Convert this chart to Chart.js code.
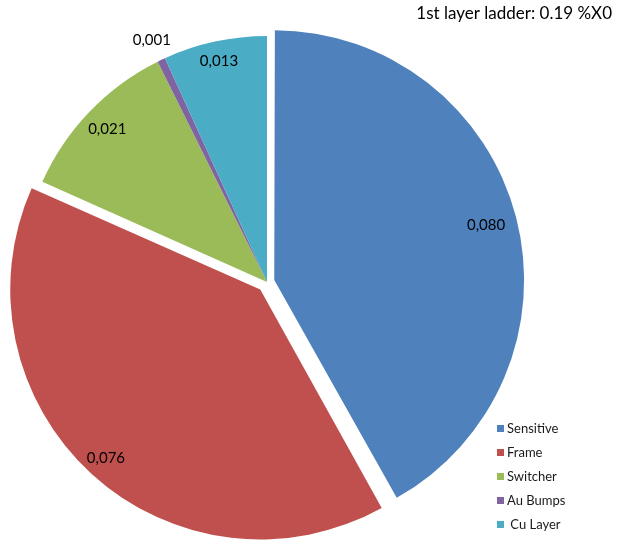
<!DOCTYPE html>
<html>
<head>
<meta charset="utf-8">
<script src="https://cdn.jsdelivr.net/npm/chart.js@4/dist/chart.umd.min.js"></script>
<style>
  body { margin: 0; background: #ffffff; }
  #wrap { position: relative; width: 618px; height: 542px; }
</style>
</head>
<body>
<div id="wrap"><canvas id="pieChart" width="618" height="542"></canvas></div>
<script>
// 1st layer ladder material budget (%X0)
var categories = ['Sensitive', 'Frame', 'Switcher', 'Au Bumps', ' Cu Layer'];
var values = [0.080, 0.076, 0.021, 0.001, 0.013];
var colors = ['#4F81BD', '#C0504D', '#9BBB59', '#8064A2', '#4BACC6'];
var titleText = '1st layer ladder: 0.19 %X0';

// where each value label sits, as a fraction of the radius
var labelRadius = [0.89, 0.93, 0.90, 1.09, 0.92];

function fmt(v) {
    return v.toFixed(3).replace('.', ','); // decimal comma
}

// value labels on the slices (the tiny one sits outside)
var sliceLabels = {
    id: 'sliceLabels',
    afterDatasetsDraw: function (chart) {
        var ctx = chart.ctx;
        var meta = chart.getDatasetMeta(0);
        ctx.save();
        ctx.font = '15px Lato, "Open Sans", sans-serif';
        ctx.fillStyle = '#000000';
        ctx.textAlign = 'center';
        ctx.textBaseline = 'middle';
        meta.data.forEach(function (arc, i) {
            var p = arc.getProps(['x', 'y', 'startAngle', 'endAngle', 'outerRadius'], true);
            var mid = (p.startAngle + p.endAngle) / 2;
            var shift = (arc.options.offset || 0) / 4; // arc draws offset/4
            var r = shift + p.outerRadius * labelRadius[i];
            ctx.fillText(fmt(values[i]), p.x + Math.cos(mid) * r, p.y + Math.sin(mid) * r);
        });
        ctx.restore();
    }
};

// title top right + legend bottom right
var sideText = {
    id: 'sideText',
    afterDraw: function (chart) {
        var ctx = chart.ctx;
        ctx.save();
        ctx.fillStyle = '#000000';
        ctx.font = '17px Lato, "Open Sans", sans-serif';
        ctx.textAlign = 'right';
        ctx.textBaseline = 'middle';
        ctx.fillText(titleText, 612, 14);

        ctx.font = '13px Lato, "Open Sans", sans-serif';
        ctx.textAlign = 'left';
        categories.forEach(function (name, i) {
            var y = 429 + i * 24;
            ctx.fillStyle = colors[i];
            ctx.fillRect(497, y - 4, 7, 7);
            ctx.fillStyle = '#1a1a1a';
            ctx.fillText(name, 507, y);
        });
        ctx.restore();
    }
};

var canvas = document.getElementById('pieChart');
var pieChart = new Chart(canvas, {
    type: 'pie',
    data: {
        labels: categories,
        datasets: [{
            data: values,
            backgroundColor: colors,
            borderWidth: 0,
            offset: [30, 40, 0, 0, 0] // Sensitive and Frame pulled out
        }]
    },
    options: {
        responsive: false,
        animation: false,
        events: [],
        radius: 246,
        layout: { padding: { left: 12, right: 96, top: 27, bottom: 5 } },
        plugins: {
            legend: { display: false },
            tooltip: { enabled: false }
        }
    },
    plugins: [sliceLabels, sideText]
});
</script>
</body>
</html>
